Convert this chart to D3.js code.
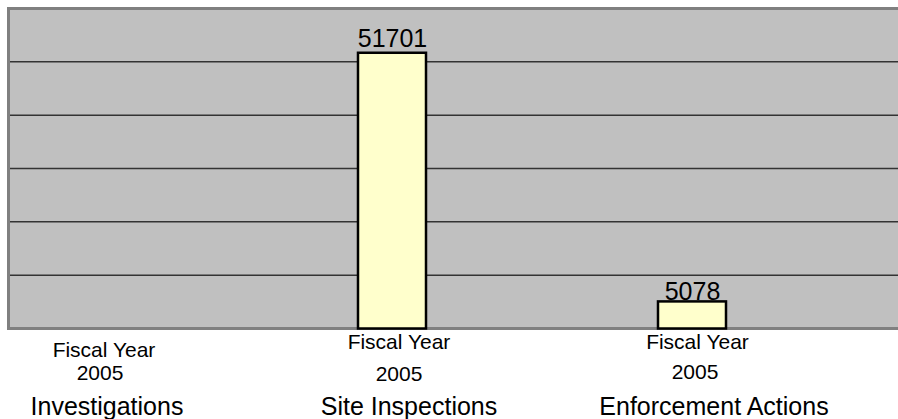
<!DOCTYPE html>
<html>
<head>
<meta charset="utf-8">
<script src="https://cdn.jsdelivr.net/npm/d3@7/dist/d3.min.js"></script>
<style>
  html, body { margin: 0; padding: 0; background: #fff; }
  svg { display: block; }
  text { font-family: "Liberation Sans", Arial, sans-serif; fill: #000; }
</style>
</head>
<body>
<svg id="chart" width="898" height="419"></svg>
<script>
// ---- data ----
const categories = ["Investigations", "Site Inspections", "Enforcement Actions"];
const values = [0, 51701, 5078];
const periodLine1 = ["Fiscal Year", "Fiscal Year", "Fiscal Year"];
const periodLine2 = ["2005", "2005", "2005"];
const yTicks = [0, 10000, 20000, 30000, 40000, 50000, 60000];

// ---- layout ----
const W = 898, H = 419;
const plot = { left: 8.5, top: 8.5, right: 905, bottom: 328.5 };
const labelLayout = [
  { fyDx: 12, fyY: 357, yrDx: 8, yrY: 380, catDx: 15, valDy: -6 },
  { fyDx: 7, fyY: 349, yrDx: 7, yrY: 380.5, catDx: 17, valDy: -6 },
  { fyDx: 5.5, fyY: 349, yrDx: 3, yrY: 379, catDx: 22, valDy: -1 }
];

const svg = d3.select("#chart");

const x = d3.scaleBand()
  .domain(categories)
  .range([-58, 842])
  .paddingInner(0.77333)
  .paddingOuter(0.38667);

const y = d3.scaleLinear()
  .domain([0, 60000])
  .range([plot.bottom, plot.top]);

// plot background
svg.append("rect")
  .attr("x", plot.left).attr("y", plot.top)
  .attr("width", plot.right - plot.left)
  .attr("height", plot.bottom - plot.top)
  .attr("fill", "#c0c0c0");

// gridlines
svg.append("g")
  .selectAll("line")
  .data(yTicks.filter(t => t > 0 && t < 60000))
  .join("line")
  .attr("x1", plot.left).attr("x2", plot.right)
  .attr("y1", d => y(d)).attr("y2", d => y(d))
  .attr("stroke", "#333")
  .attr("stroke-width", 1.5);

// plot border (left, top, bottom)
const border = svg.append("g").attr("stroke", "#808080").attr("stroke-width", 3).attr("fill", "none");
border.append("line").attr("x1", plot.left).attr("x2", plot.left).attr("y1", plot.top - 1.5).attr("y2", plot.bottom + 1.5);
border.append("line").attr("x1", plot.left - 1.5).attr("x2", plot.right).attr("y1", plot.top).attr("y2", plot.top);
border.append("line").attr("x1", plot.left - 1.5).attr("x2", plot.right).attr("y1", plot.bottom).attr("y2", plot.bottom);

const data = categories.map((c, i) => ({ c, v: values[i], i }));

// bars
svg.append("g")
  .selectAll("rect")
  .data(data.filter(d => d.v > 0))
  .join("rect")
  .attr("x", d => x(d.c))
  .attr("y", d => y(d.v))
  .attr("width", x.bandwidth())
  .attr("height", d => y(0) - y(d.v))
  .attr("fill", "#ffffcc")
  .attr("stroke", "#000")
  .attr("stroke-width", 2.5);

// value labels
svg.append("g")
  .selectAll("text")
  .data(data.filter(d => d.v > 0))
  .join("text")
  .attr("x", d => x(d.c) + x.bandwidth() / 2 + 0.5)
  .attr("y", d => y(d.v) + labelLayout[d.i].valDy)
  .attr("text-anchor", "middle")
  .attr("font-size", 25)
  .text(d => d.v);

// category labels
const cx = d => x(d.c) + x.bandwidth() / 2;
const lab = svg.append("g").attr("text-anchor", "middle");
lab.selectAll("text.fy").data(data).join("text").attr("class", "fy")
  .attr("x", d => cx(d) + labelLayout[d.i].fyDx)
  .attr("y", d => labelLayout[d.i].fyY)
  .attr("font-size", 21)
  .text(d => periodLine1[d.i]);
lab.selectAll("text.yr").data(data).join("text").attr("class", "yr")
  .attr("x", d => cx(d) + labelLayout[d.i].yrDx)
  .attr("y", d => labelLayout[d.i].yrY)
  .attr("font-size", 21)
  .text(d => periodLine2[d.i]);
lab.selectAll("text.cat").data(data).join("text").attr("class", "cat")
  .attr("x", d => cx(d) + labelLayout[d.i].catDx)
  .attr("y", 415)
  .attr("font-size", 25)
  .text(d => d.c);
</script>
</body>
</html>
